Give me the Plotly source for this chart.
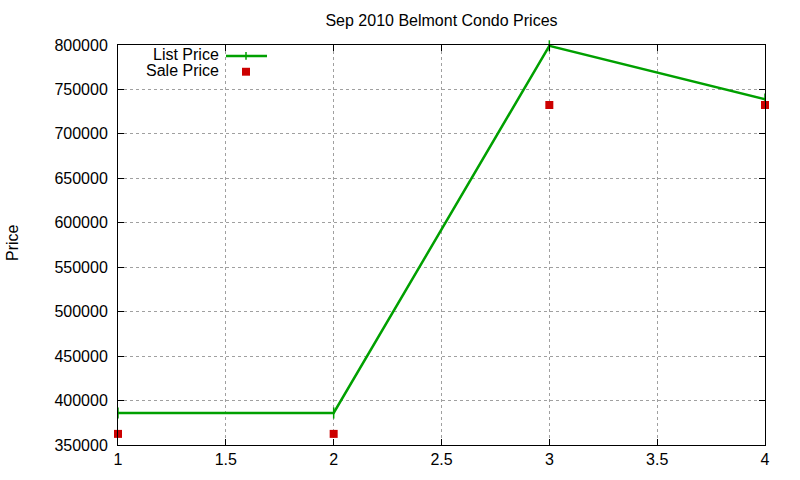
import plotly.graph_objects as go

# Belmont condo sales, Sep 2010
listings = [1, 2, 3, 4]
list_price = [386000, 386000, 799000, 739000]
sale_price = [362500, 362500, 732500, 732500]

x_ticks = [1, 1.5, 2, 2.5, 3, 3.5, 4]
y_ticks = list(range(350000, 800001, 50000))

GREEN = "#00a000"
RED = "#cc0000"
FONT = "Liberation Sans, Arial, sans-serif"

# page size and plot box in pixels
W, H = 800, 480
L, R, T, B = 118, 35, 45, 31
pw, ph = W - L - R, H - T - B


def px(x):
    return (x - L) / pw


def py(y):
    return (H - B - y) / ph


fig = go.Figure()
fig.add_trace(go.Scatter(
    x=listings, y=list_price, mode="lines+markers", name="List Price",
    line=dict(color=GREEN, width=2.5),
    marker=dict(symbol="line-ns", size=8, line=dict(color=GREEN, width=1.5)),
    cliponaxis=False,
))
fig.add_trace(go.Scatter(
    x=listings, y=sale_price, mode="markers", name="Sale Price",
    marker=dict(symbol="square", size=8, color=RED),
    cliponaxis=False,
))

axis_common = dict(
    showline=True, linecolor="black", linewidth=1, mirror="ticks",
    ticks="inside", ticklen=6, tickcolor="black",
    showgrid=True, gridcolor="#a0a0a0", griddash="dot", gridwidth=1,
    zeroline=False, tickfont=dict(family=FONT, size=16, color="black"),
)

fig.update_xaxes(range=[1, 4], tickvals=x_ticks,
                 ticktext=[f"{v:g}" for v in x_ticks], **axis_common)
fig.update_yaxes(range=[350000, 800000], tickvals=y_ticks,
                 ticktext=[str(v) for v in y_ticks], ticklabelstandoff=6,
                 **axis_common)

# gnuplot style key: text on the left, sample on the right
for label, ypos in [("List Price", 55), ("Sale Price", 71)]:
    fig.add_annotation(x=px(217), y=py(ypos), xref="paper", yref="paper",
                       text=label, showarrow=False, xanchor="right",
                       yanchor="middle", xshift=4,
                       font=dict(family=FONT, size=16, color="black"))

fig.add_shape(type="line", xref="paper", yref="paper",
              x0=px(226), x1=px(267), y0=py(56), y1=py(56),
              line=dict(color=GREEN, width=2.5))
fig.add_shape(type="line", xref="paper", yref="paper",
              x0=px(246), x1=px(246), y0=py(52), y1=py(60),
              line=dict(color=GREEN, width=1.5))
fig.add_shape(type="rect", xref="paper", yref="paper",
              x0=px(242), x1=px(250), y0=py(68), y1=py(76),
              line=dict(width=0), fillcolor=RED)

fig.add_annotation(x=px(12), y=py(245), xref="paper", yref="paper",
                   text="Price", textangle=-90, showarrow=False,
                   xanchor="center", yanchor="middle",
                   font=dict(family=FONT, size=16, color="black"))

fig.update_layout(
    width=W, height=H,
    margin=dict(l=L, r=R, t=T, b=B),
    paper_bgcolor="white", plot_bgcolor="white",
    showlegend=False,
    title=dict(text="Sep 2010 Belmont Condo Prices",
               x=(L + pw / 2) / W, xanchor="center",
               y=1 - 20 / H, yanchor="middle",
               font=dict(family=FONT, size=16, color="black")),
    font=dict(family=FONT, color="black"),
)

# drop the browser's default 8px body margin so the page lines up
fig.write_html("out.html", config={"displayModeBar": False},
               post_script="document.body.style.margin = '0';")
